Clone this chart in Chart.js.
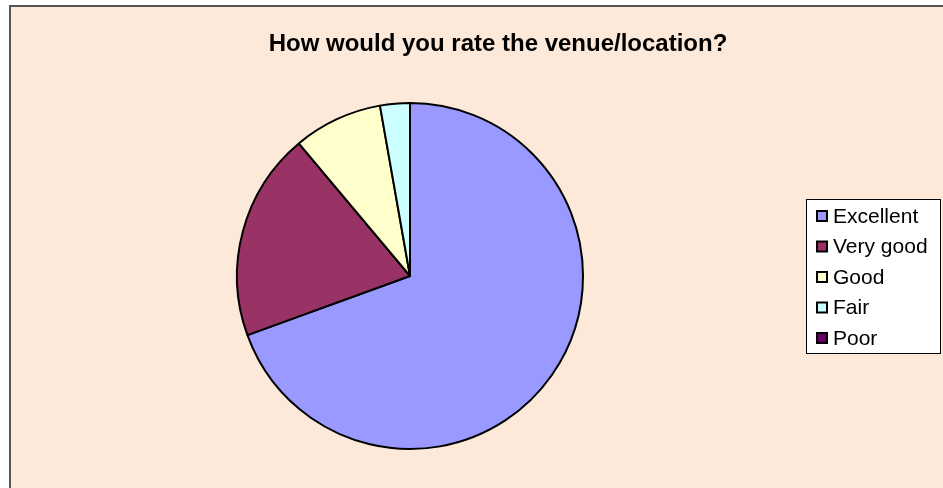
<!DOCTYPE html>
<html>
<head>
<meta charset="utf-8">
<script src="https://cdn.jsdelivr.net/npm/chart.js@4"></script>
<style>
  html, body { margin: 0; padding: 0; background: #fff; }
  #wrap { width: 943px; height: 488px; }
</style>
</head>
<body>
<div id="wrap"><canvas id="pieChart" width="943" height="488"></canvas></div>
<script>
const title = "How would you rate the venue/location?";
const categories = ["Excellent", "Very good", "Good", "Fair", "Poor"];
const responses = [25, 7, 3, 1, 0];
const sliceColors = ["#9999FF", "#993366", "#FFFFCC", "#CCFFFF", "#660066"];

// background, frame, title and boxed legend
const decor = {
  id: "decor",
  beforeDraw(chart) {
    const ctx = chart.ctx;
    ctx.save();
    ctx.fillStyle = "#fde9d9";
    ctx.fillRect(10, 6, chart.width - 10, chart.height - 6);
    ctx.strokeStyle = "#555";
    ctx.lineWidth = 2;
    ctx.beginPath();
    ctx.moveTo(10, chart.height);
    ctx.lineTo(10, 6);
    ctx.lineTo(chart.width, 6);
    ctx.stroke();
    ctx.restore();
  },
  afterDraw(chart) {
    const ctx = chart.ctx;
    ctx.save();
    ctx.fillStyle = "#000";
    ctx.font = "bold 24px 'Liberation Sans', Arial, sans-serif";
    ctx.textAlign = "center";
    ctx.textBaseline = "alphabetic";
    ctx.fillText(title, 498, 51);

    // legend box
    ctx.fillStyle = "#fff";
    ctx.fillRect(806, 199, 134, 154);
    ctx.strokeStyle = "#000";
    ctx.lineWidth = 1;
    ctx.strokeRect(806.5, 199.5, 134, 154);
    const labels = chart.data.labels;
    const colors = chart.data.datasets[0].backgroundColor;
    ctx.font = "21px 'Liberation Sans', Arial, sans-serif";
    ctx.textAlign = "left";
    ctx.textBaseline = "middle";
    labels.forEach((lab, i) => {
      const y = 216 + i * 30.5;
      ctx.fillStyle = colors[i];
      ctx.fillRect(817, y - 5, 10, 10);
      ctx.lineWidth = 2;
      ctx.strokeStyle = "#000";
      ctx.strokeRect(817, y - 5, 10, 10);
      ctx.fillStyle = "#000";
      ctx.fillText(lab, 833, y + 1);
    });
    ctx.restore();
  }
};

new Chart(document.getElementById("pieChart"), {
  type: "pie",
  data: {
    labels: categories,
    datasets: [{
      data: responses,
      backgroundColor: sliceColors,
      borderColor: "#000",
      borderWidth: 2
    }]
  },
  options: {
    responsive: false,
    animation: false,
    layout: { padding: { left: 236, right: 359, top: 101, bottom: 37 } },
    plugins: {
      legend: { display: false },
      tooltip: { enabled: false }
    }
  },
  plugins: [decor]
});
</script>
</body>
</html>
